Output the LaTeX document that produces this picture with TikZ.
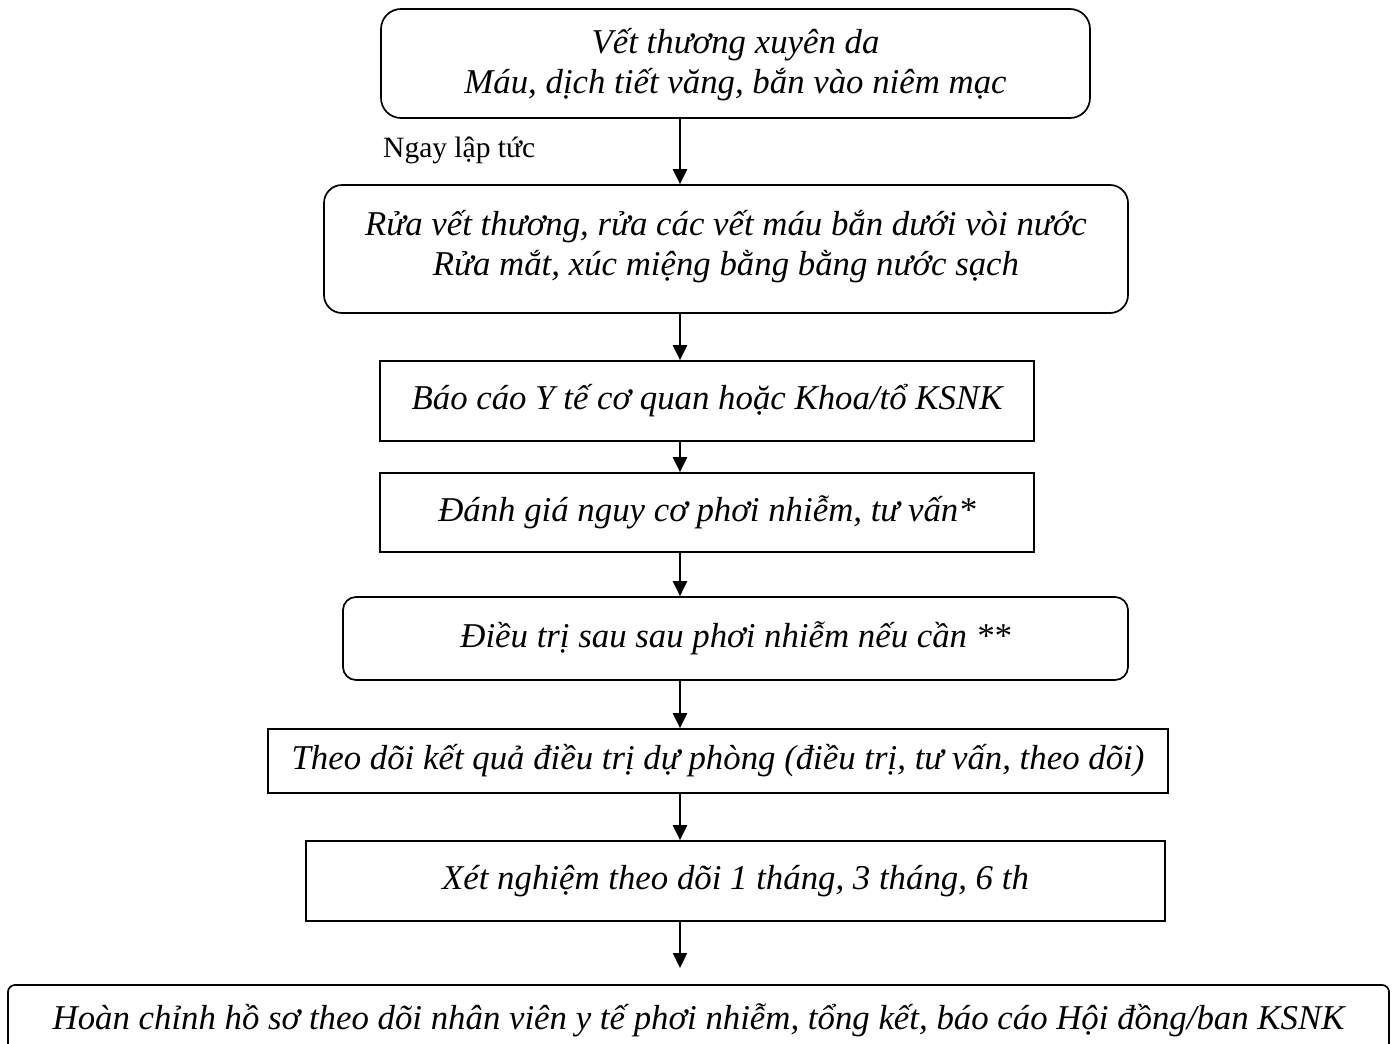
\documentclass[tikz,border=0pt]{standalone}
\usepackage{fontspec}
\setmainfont{Liberation Serif}
\usetikzlibrary{arrows.meta}

\tikzset{
  stepbox/.style={draw, line width=1.7pt, align=center, inner sep=0pt,
    font=\itshape\fontsize{34.8}{40}\selectfont},
  roundbox/.style={stepbox, rounded corners=#1},
  arr/.style={line width=2.2pt, -{Triangle[length=15pt,width=14pt]}}
}

\begin{document}
\begin{tikzpicture}[x=1pt, y=-1pt]
        \useasboundingbox (0,0) rectangle (1395,1044);
        \clip (0,0) rectangle (1395,1044);
        \coordinate (ax) at (680,0);

        \node[roundbox=20pt, minimum width=709pt, minimum height=109pt] (wound) at (735.5,63.5)
            {\strut Vết thương xuyên da\\Máu, dịch tiết văng, bắn vào niêm mạc};
        \node[roundbox=18pt, minimum width=804pt, minimum height=128pt] (wash) at (726,249)
            {Rửa vết thương, rửa các vết máu bắn dưới vòi nước\\Rửa mắt, xúc miệng bằng bằng nước sạch\strut};
        \node[stepbox, minimum width=654pt, minimum height=80pt] (report) at (707,401)
            {Báo cáo Y tế cơ quan hoặc Khoa/tổ KSNK};
        \node[stepbox, minimum width=654pt, minimum height=79pt] (assess) at (707,512.5)
            {Đánh giá nguy cơ phơi nhiễm, tư vấn*};
        \node[roundbox=13pt, minimum width=785pt, minimum height=83pt] (treat) at (735.5,638.5)
            {Điều trị sau sau phơi nhiễm nếu cần **};
        \node[stepbox, minimum width=900pt, minimum height=64pt] (follow) at (718,761)
            {Theo dõi kết quả điều trị dự phòng (điều trị, tư vấn, theo dõi)};
        \node[stepbox, minimum width=859pt, minimum height=80pt] (test) at (735.5,881)
            {Xét nghiệm theo dõi 1 tháng, 3 tháng, 6 th};
        \node[roundbox=7pt, minimum width=1381pt, minimum height=70pt] (record) at (698.5,1020)
            {Hoàn chỉnh hồ sơ theo dõi nhân viên y tế phơi nhiễm, tổng kết, báo cáo Hội đồng/ban KSNK};

        \node[anchor=west, inner sep=0pt, font=\fontsize{29.5}{34}\selectfont] (now) at (383,150) {Ngay lập tức};

        \draw[arr] (wound.south -| ax) -- (wash.north -| ax);
        \draw[arr] (wash.south -| ax) -- (report.north -| ax);
        \draw[arr] (report.south -| ax) -- (assess.north -| ax);
        \draw[arr] (assess.south -| ax) -- (treat.north -| ax);
        \draw[arr] (treat.south -| ax) -- (follow.north -| ax);
        \draw[arr] (follow.south -| ax) -- (test.north -| ax);
        \coordinate (tip) at (680,968);
        \draw[arr] (test.south -| ax) -- (tip);
    \end{tikzpicture}
\end{document}
